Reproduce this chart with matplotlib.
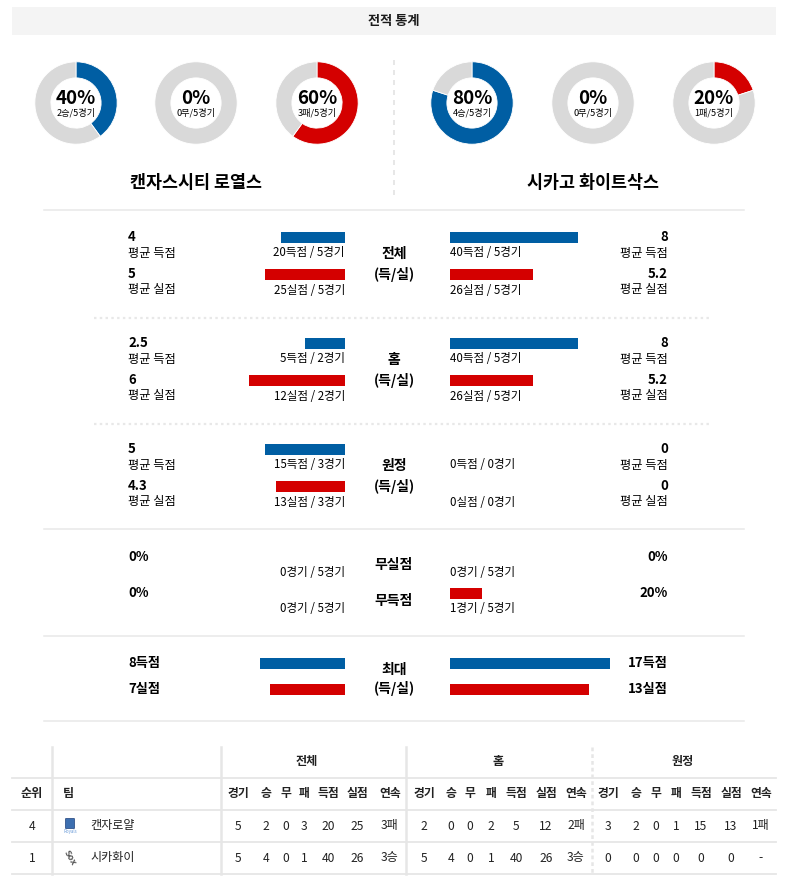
import matplotlib
matplotlib.use("Agg")
import matplotlib.pyplot as plt
from matplotlib.patches import Rectangle, FancyBboxPatch

plt.rcParams['font.family'] = ['Noto Sans CJK KR', 'DejaVu Sans']

# ---------------- data ----------------
title = '전적 통계'
team_names = ['캔자스시티 로열스', '시카고 화이트삭스']

left_donut_pct = [40, 0, 60]
left_donut_sub = ['2승/5경기', '0무/5경기', '3패/5경기']
right_donut_pct = [80, 0, 20]
right_donut_sub = ['4승/5경기', '0무/5경기', '1패/5경기']
donut_kind = ['win', 'draw', 'loss']

sec_titles = ['전체', '홈', '원정']
sec_sub = '(득/실)'
left_avg_for = [4, 2.5, 5]
left_avg_against = [5, 6, 4.3]
left_for_labels = ['20득점 / 5경기', '5득점 / 2경기', '15득점 / 3경기']
left_against_labels = ['25실점 / 5경기', '12실점 / 2경기', '13실점 / 3경기']
right_avg_for = [8, 8, 0]
right_avg_against = [5.2, 5.2, 0]
right_for_labels = ['40득점 / 5경기', '40득점 / 5경기', '0득점 / 0경기']
right_against_labels = ['26실점 / 5경기', '26실점 / 5경기', '0실점 / 0경기']
avg_label_for = '평균 득점'
avg_label_against = '평균 실점'

pct_titles = ['무실점', '무득점']
left_pct = [0, 0]
right_pct = [0, 20]
left_pct_labels = ['0경기 / 5경기', '0경기 / 5경기']
right_pct_labels = ['0경기 / 5경기', '1경기 / 5경기']

max_title = '최대'
left_max = [8, 7]
right_max = [17, 13]
max_units = ['득점', '실점']

group_names = ['전체', '홈', '원정']
sub_cols = ['경기', '승', '무', '패', '득점', '실점', '연속']
ranks = [4, 1]
short_names = ['캔자로얄', '시카화이']
overall_rows = [[5, 2, 0, 3, 20, 25, '3패'], [5, 4, 0, 1, 40, 26, '3승']]
home_rows = [[2, 0, 0, 2, 5, 12, '2패'], [5, 4, 0, 1, 40, 26, '3승']]
away_rows = [[3, 2, 0, 1, 15, 13, '1패'], [0, 0, 0, 0, 0, 0, '-']]

# ---------------- style ----------------
BLUE = '#005ea3'
RED = '#d40000'
GRAY = '#d9d9d9'
LINE = '#e8e8e8'
TXT = '#000000'
W, H = 789, 884

fig = plt.figure(figsize=(W / 100, H / 100), dpi=100)
fig.patch.set_facecolor('white')


def px_axes(x0, y0, w, h, z=1):
    a = fig.add_axes([x0 / W, 1 - (y0 + h) / H, w / W, h / H])
    a.set_zorder(z)
    a.patch.set_alpha(0)
    a.axis('off')
    return a


main = px_axes(0, 0, W, H, z=0)
main.set_xlim(0, W)
main.set_ylim(H, 0)

# header
main.add_patch(Rectangle((12, 7), 764, 28, facecolor='#f4f4f4', edgecolor='none'))
main.text(394, 21, title, ha='center', va='center', fontsize=9.5, weight='bold', color='#1a1a1a')

# donuts
kind_color = {'win': BLUE, 'draw': BLUE, 'loss': RED}
left_cx = [76, 196, 317]
right_cx = [472, 593, 714]
cy = 103
R = 42
for cxs, pcts, subs in [(left_cx, left_donut_pct, left_donut_sub),
                        (right_cx, right_donut_pct, right_donut_sub)]:
    for cx, p, s, k in zip(cxs, pcts, subs, donut_kind):
        a = px_axes(cx - R, cy - R, 2 * R, 2 * R, z=1)
        a.pie([p, 100 - p], colors=[kind_color[k], GRAY], startangle=90,
              counterclock=False, radius=1,
              wedgeprops=dict(width=0.39, edgecolor='white', linewidth=0.6))
        a.set_xlim(-1.02, 1.02)
        a.set_ylim(-1.02, 1.02)
        main.text(cx, 99, f'{p}%', ha='center', va='center', fontsize=13.5, weight='bold', color='#000')
        main.text(cx, 113, s, ha='center', va='center', fontsize=6.6, color='#000')

# divider
main.plot([394, 394], [60, 195], color='#e3e3e3', lw=1.2, ls=(0, (3, 3)))

# team names
main.text(196, 183, team_names[0], ha='center', va='center', fontsize=12.5, weight='bold', color='#000')
main.text(593, 183, team_names[1], ha='center', va='center', fontsize=12.5, weight='bold', color='#000')

# separator lines
for y in [210, 529, 636, 721]:
    main.plot([44, 744], [y, y], color=LINE, lw=1.1)
for y in [318, 424]:
    main.plot([94, 710], [y, y], color=LINE, lw=1.6, ls=(0, (1.1, 1.5)))

# bar axes
LX0, LX1 = 185, 345
RX0, RX1 = 450, 610


def bar_axes(side, lim):
    if side == 'L':
        a = px_axes(LX0, 0, LX1 - LX0, H, z=2)
        a.set_xlim(lim, 0)
    else:
        a = px_axes(RX0, 0, RX1 - RX0, H, z=2)
        a.set_xlim(0, lim)
    a.set_ylim(H, 0)
    return a


axL_avg = bar_axes('L', 10)
axR_avg = bar_axes('R', 10)
axL_pct = bar_axes('L', 100)
axR_pct = bar_axes('R', 100)
axL_max = bar_axes('L', 15)
axR_max = bar_axes('R', 15)

BH = 11
VX_L = 128
VX_R = 668
FS_VAL = 9.5
FS_LAB = 8.8
FS_BAR = 8.3
FS_CEN = 10

sec_top = [237, 343, 449]
for i, y0 in enumerate(sec_top):
    y_for = y0
    y_ag = y0 + 37
    # bars
    axL_avg.barh(y_for + 0.5, left_avg_for[i], height=BH, color=BLUE)
    axL_avg.barh(y_ag + 0.5, left_avg_against[i], height=BH, color=RED)
    axR_avg.barh(y_for + 0.5, right_avg_for[i], height=BH, color=BLUE)
    axR_avg.barh(y_ag + 0.5, right_avg_against[i], height=BH, color=RED)
    # left texts
    main.text(VX_L, y_for, f'{left_avg_for[i]:g}', ha='left', va='center', fontsize=FS_VAL, weight='bold', color='#000')
    main.text(VX_L, y_for + 16, avg_label_for, ha='left', va='center', fontsize=FS_LAB, color=TXT)
    main.text(VX_L, y_ag, f'{left_avg_against[i]:g}', ha='left', va='center', fontsize=FS_VAL, weight='bold', color='#000')
    main.text(VX_L, y_ag + 16, avg_label_against, ha='left', va='center', fontsize=FS_LAB, color=TXT)
    main.text(LX1, y_for + 16, left_for_labels[i], ha='right', va='center', fontsize=FS_BAR, color=TXT)
    main.text(LX1, y_ag + 16, left_against_labels[i], ha='right', va='center', fontsize=FS_BAR, color=TXT)
    # right texts
    main.text(VX_R, y_for, f'{right_avg_for[i]:g}', ha='right', va='center', fontsize=FS_VAL, weight='bold', color='#000')
    main.text(VX_R, y_for + 16, avg_label_for, ha='right', va='center', fontsize=FS_LAB, color=TXT)
    main.text(VX_R, y_ag, f'{right_avg_against[i]:g}', ha='right', va='center', fontsize=FS_VAL, weight='bold', color='#000')
    main.text(VX_R, y_ag + 16, avg_label_against, ha='right', va='center', fontsize=FS_LAB, color=TXT)
    main.text(RX0, y_for + 16, right_for_labels[i], ha='left', va='center', fontsize=FS_BAR, color=TXT)
    main.text(RX0, y_ag + 16, right_against_labels[i], ha='left', va='center', fontsize=FS_BAR, color=TXT)
    # center
    main.text(394, y0 + 17, sec_titles[i], ha='center', va='center', fontsize=FS_CEN, weight='bold', color='#000')
    main.text(394, y0 + 37, sec_sub, ha='center', va='center', fontsize=FS_CEN, weight='bold', color='#000')

# percentage section
pct_y = [557, 593]
for i, y in enumerate(pct_y):
    axL_pct.barh(y + 0.5, left_pct[i], height=BH, color=RED)
    axR_pct.barh(y + 0.5, right_pct[i], height=BH, color=RED)
    main.text(VX_L, y, f'{left_pct[i]}%', ha='left', va='center', fontsize=FS_VAL, weight='bold', color='#000')
    main.text(VX_R, y, f'{right_pct[i]}%', ha='right', va='center', fontsize=FS_VAL, weight='bold', color='#000')
    main.text(LX1, y + 15, left_pct_labels[i], ha='right', va='center', fontsize=FS_BAR, color=TXT)
    main.text(RX0, y + 15, right_pct_labels[i], ha='left', va='center', fontsize=FS_BAR, color=TXT)
    main.text(394, y + 8, pct_titles[i], ha='center', va='center', fontsize=FS_CEN, weight='bold', color='#000')

# max section
max_y = [663, 689]
max_cols = [BLUE, RED]
for i, y in enumerate(max_y):
    axL_max.barh(y + 0.5, left_max[i], height=BH, color=max_cols[i])
    axR_max.barh(y + 0.5, right_max[i], height=BH, color=max_cols[i])
    main.text(VX_L, y, f'{left_max[i]}{max_units[i]}', ha='left', va='center', fontsize=FS_VAL, weight='bold', color='#000')
    main.text(VX_R, y, f'{right_max[i]}{max_units[i]}', ha='right', va='center', fontsize=FS_VAL, weight='bold', color='#000')
main.text(394, 670, max_title, ha='center', va='center', fontsize=FS_CEN, weight='bold', color='#000')
main.text(394, 689, sec_sub, ha='center', va='center', fontsize=FS_CEN, weight='bold', color='#000')

# ---------------- table ----------------
TL = '#e6e6e6'
for y in [778, 810, 842, 874]:
    main.plot([12, 776], [y, y], color=TL, lw=1.3)
for x in [52, 221, 406]:
    main.plot([x, x], [747, 874], color=TL, lw=1.8)
main.plot([592, 592], [747, 874], color=TL, lw=1.8, ls=(0, (1.5, 1.2)))

group_x = [307, 498, 683]
col_x = [[238, 266, 286, 304, 328, 357, 390],
         [424, 451, 470, 491, 516, 546, 576],
         [608, 636, 656, 676, 701, 731, 761]]
for gx, g in zip(group_x, group_names):
    main.text(gx, 762, g, ha='center', va='center', fontsize=8.7, weight='bold', color='#222')
main.text(32, 794, '순위', ha='center', va='center', fontsize=8.7, weight='bold', color='#222')
main.text(63, 794, '팀', ha='left', va='center', fontsize=8.7, weight='bold', color='#222')
for xs in col_x:
    for x, c in zip(xs, sub_cols):
        main.text(x, 794, c, ha='center', va='center', fontsize=8.5, weight='bold', color='#222')

row_y = [826, 858]
for r, y in enumerate(row_y):
    main.text(32, y, str(ranks[r]), ha='center', va='center', fontsize=8.7, color='#222')
    main.text(90, y, short_names[r], ha='left', va='center', fontsize=8.7, color='#222')
    for xs, rows in zip(col_x, [overall_rows, home_rows, away_rows]):
        for x, v in zip(xs, rows[r]):
            main.text(x, y, str(v), ha='center', va='center', fontsize=8.7, color='#222')

# small team logos
main.add_patch(FancyBboxPatch((66, 819), 8, 9, boxstyle='round,pad=0.5', facecolor='#3d6fb0', edgecolor='#1c3f7a', lw=0.5))
main.text(70, 832, 'Royals', ha='center', va='center', fontsize=3.2, color='#6a9bd8', style='italic')
main.text(70, 858, 'Sox', ha='center', va='center', fontsize=6.5, color='#555', style='italic', weight='bold', rotation=-60)

fig.savefig('out.png', dpi=100, facecolor='white')
